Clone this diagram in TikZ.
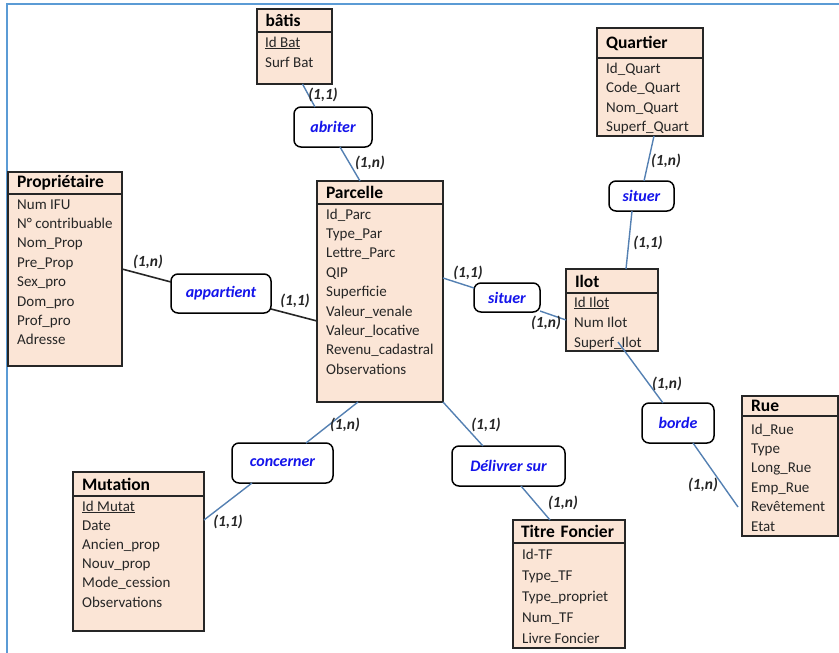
\documentclass[tikz,border=0pt]{standalone}
\usepackage{fontspec}
\setmainfont{Carlito}
\usetikzlibrary{positioning}
\definecolor{entfill}{RGB}{251,229,214}
\definecolor{entline}{RGB}{38,38,38}
\definecolor{relblue}{RGB}{20,20,235}
\definecolor{linkblue}{RGB}{84,128,178}
\definecolor{framebl}{RGB}{91,155,213}
\tikzset{
  enthead/.style={draw=entline, line width=2pt, fill=entfill, anchor=north west, outer sep=0pt,
    inner xsep=9pt, inner ysep=0pt, align=left, font=\fontsize{17.5}{20}\selectfont\bfseries},
  entbody/.style={draw=entline, line width=2pt, fill=entfill, below=0pt of #1, outer sep=0pt, inner sep=0pt},
  attr/.style={anchor=base west, inner sep=0pt, font=\fontsize{15}{18}\selectfont, text=black!85},
  rel/.style={draw, line width=1.5pt, rounded corners=7pt, fill=white, inner sep=0pt, outer sep=0pt,
    text=relblue, font=\fontsize{16}{18}\selectfont\bfseries\itshape},
  card/.style={inner sep=0pt, font=\fontsize{15.5}{18}\selectfont\bfseries\itshape, text=black!85},
  link/.style={draw=linkblue, line width=1.4pt},
  linkdark/.style={draw=black!85, line width=1.6pt}
}
\begin{document}
\begin{tikzpicture}[x=1pt, y=-1pt]
\useasboundingbox (0,0) rectangle (839,653);
% frame
\draw[framebl, line width=2pt] (7,653) -- (7,4) -- (839,4);

% Entities
\node[enthead, text width=57pt, minimum height=23pt] (batis) at (256.5,9) {bâtis};
\node[entbody=batis, minimum width=75pt, minimum height=52pt] (batis-b) {};
\foreach \a [count=\i from 0] in {\underline{Id Bat}, Surf Bat}
  \node[attr] (batis-\i) at (265, 47+20*\i) {\a};

\node[enthead, text width=88pt, minimum height=30pt] (quartier) at (597,28) {Quartier};
\node[entbody=quartier, minimum width=106pt, minimum height=78pt] (quartier-b) {};
\foreach \a [count=\i from 0] in {Id\_Quart, Code\_Quart, Nom\_Quart, Superf\_Quart}
  \node[attr] (quartier-\i) at (606, 73+19.5*\i) {\a};

\node[enthead, text width=96pt, minimum height=22pt] (proprio) at (8,172) {Propriétaire};
\node[entbody=proprio, minimum width=114pt, minimum height=172pt] (proprio-b) {};
\foreach \a [count=\i from 0] in {Num IFU, N° contribuable, Nom\_Prop, Pre\_Prop, Sex\_pro, Dom\_pro, Prof\_pro, Adresse}
  \node[attr] (proprio-\i) at (17, 209+19.4*\i) {\a};

\node[enthead, text width=108pt, minimum height=23pt] (parcelle) at (317,181) {Parcelle};
\node[entbody=parcelle, minimum width=126pt, minimum height=198pt] (parcelle-b) {};
\foreach \a [count=\i from 0] in {Id\_Parc, Type\_Par, Lettre\_Parc, QIP, Superficie, Valeur\_venale, Valeur\_locative, Revenu\_cadastral, Observations}
  \node[attr] (parcelle-\i) at (326, 219+19.4*\i) {\a};

\node[enthead, text width=74pt, minimum height=24pt] (ilot) at (566,269) {Ilot};
\node[entbody=ilot, minimum width=92pt, minimum height=58pt] (ilot-b) {};
\foreach \a [count=\i from 0] in {\underline{Id Ilot}, Num Ilot, Superf\_Ilot}
  \node[attr] (ilot-\i) at (574, 307+20*\i) {\a};

\node[enthead, text width=78pt, minimum height=20pt] (rue) at (742,396) {Rue};
\node[entbody=rue, minimum width=96pt, minimum height=120pt] (rue-b) {};
\foreach \a [count=\i from 0] in {Id\_Rue, Type, Long\_Rue, Emp\_Rue, Revêtement, Etat}
  \node[attr] (rue-\i) at (751, 434+19.4*\i) {\a};

\node[enthead, inner xsep=8pt, text width=96pt, minimum height=23pt] (titre) at (513,520) {Titre Foncier};
\node[entbody=titre, minimum width=112pt, minimum height=105pt] (titre-b) {};
\foreach \a [count=\i from 0] in {Id-TF, Type\_TF, Type\_propriet, Num\_TF, Livre Foncier}
  \node[attr] (titre-\i) at (522, 559+21*\i) {\a};

\node[enthead, text width=113pt, minimum height=24pt] (mutation) at (73,472) {Mutation};
\node[entbody=mutation, minimum width=131pt, minimum height=135pt] (mutation-b) {};
\foreach \a [count=\i from 0] in {\underline{Id Mutat}, Date, Ancien\_prop, Nouv\_prop, Mode\_cession, Observations}
  \node[attr] (mutation-\i) at (82, 511+19.2*\i) {\a};

% Relations
\node[rel, minimum width=78pt, minimum height=40pt] (abriter) at (333,127) {abriter};
\node[rel, minimum width=100pt, minimum height=39pt] (appartient) at (221,293.5) {appartient};
\node[rel, minimum width=65pt, minimum height=30pt] (situerq) at (641.5,196) {situer};
\node[rel, minimum width=66pt, minimum height=29pt] (situerp) at (507,297.5) {situer};
\node[rel, minimum width=72pt, minimum height=40pt] (borde) at (678,423) {borde};
\node[rel, minimum width=113pt, minimum height=40pt] (delivrer) at (508.5,466) {Délivrer sur};
\node[rel, minimum width=101pt, minimum height=40pt] (concerner) at (282.5,463) {concerner};

% Links
\draw[link] ([xshift=8.5pt]batis-b.south) -- ([xshift=-18pt]abriter.north);
\draw[link] ([xshift=7pt]abriter.south) -- ([xshift=-20pt]parcelle.north);
\draw[linkdark] ([yshift=11pt]proprio-b.east) -- ([yshift=11.5pt]appartient.west);
\draw[linkdark] ([yshift=-15.5pt]appartient.east) -- ([yshift=-18pt]parcelle-b.west);
\draw[link] ([yshift=25pt]parcelle-b.east) -- ([yshift=9.5pt]situerp.west);
\draw[link] ([yshift=-13.5pt]situerp.east) -- ([yshift=2pt]ilot-b.west);
\draw[link] ([xshift=4pt]quartier-b.south) -- ([xshift=2.5pt]situerq.north);
\draw[link] ([xshift=-9.5pt]situerq.south) -- ([xshift=14pt]ilot.north);
\draw[link] ([shift={(6pt,9pt)}]ilot-b.south) -- ([xshift=-15pt]borde.north);
\draw[link] ([xshift=15pt]borde.south) -- ([shift={(-4pt,-31pt)}]rue-b.west);
\draw[link] ([xshift=-22pt]parcelle-b.south) -- ([xshift=23.5pt]concerner.north);
\draw[link] ([xshift=-30.5pt]concerner.south) -- ([yshift=43.5pt]mutation-b.east);
\draw[link] (parcelle-b.south east) -- ([xshift=-25.5pt]delivrer.north);
\draw[link] ([xshift=12.5pt]delivrer.south) -- ([xshift=-19pt]titre.north);

% Cardinalities
\node[card] (c-batis) at (323,95) {(1,1)};
\node[card] (c-abriter) at (370,163) {(1,n)};
\node[card] (c-proprio) at (148,262) {(1,n)};
\node[card] (c-appart) at (295,301) {(1,1)};
\node[card] (c-situerp) at (468,273) {(1,1)};
\node[card] (c-ilotp) at (546,323) {(1,n)};
\node[card] (c-quartier) at (666,161) {(1,n)};
\node[card] (c-ilotq) at (648,243) {(1,1)};
\node[card] (c-ilotb) at (667,384) {(1,n)};
\node[card] (c-rue) at (703,485) {(1,n)};
\node[card] (c-delivrer) at (486,425) {(1,1)};
\node[card] (c-titre) at (563,503) {(1,n)};
\node[card] (c-concerner) at (345,425) {(1,n)};
\node[card] (c-mutation) at (228,522) {(1,1)};
\end{tikzpicture}
\end{document}
